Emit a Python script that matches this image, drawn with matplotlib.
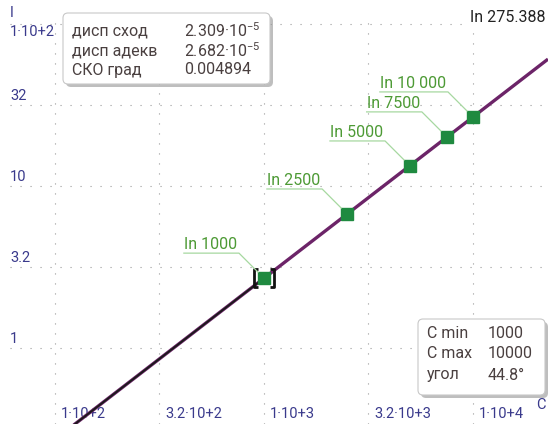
import numpy as np
import matplotlib.pyplot as plt
from matplotlib.patches import FancyBboxPatch
from matplotlib.path import Path
from matplotlib.lines import Line2D
from matplotlib.transforms import IdentityTransform

plt.rcParams["font.family"] = ["Roboto", "DejaVu Sans"]
plt.rcParams["mathtext.fontset"] = "custom"
plt.rcParams["mathtext.rm"] = "Roboto"

# measured points
capacity = [1000, 2500, 5000, 7500, 10000]
current = [2.70, 6.72, 13.3, 20.1, 26.7]
point_labels = ["In 1000", "In 2500", "In 5000", "In 7500", "In 10 000"]
selected = 0

x_grid = [100, 316.2, 1000, 3162, 10000]
x_tick_labels = ["1·10+2", "3.2·10+2", "1·10+3", "3.2·10+3", "1·10+4"]
y_grid = [1, 3.162, 10, 31.62, 100]
y_tick_labels = ["1", "3.2", "10", "32", "1·10+2"]

stats_names = ["дисп сход", "дисп адекв", "СКО град"]
stats_values = [r"2.309·10$^{\mathregular{-5}}$", r"2.682·10$^{\mathregular{-5}}$", "0.004894"]
range_names = ["C min", "C max", "угол"]
range_values = ["1000", "10000", "44.8°"]
curve_name = "In 275.388"

W, H = 548, 424
tick_col = "#3a3a8c"
box_col = "#4a4040"
label_col = "#4d9a35"
leader_col = "#a6d8a0"


def fx(x):
    return x / W


def fy(y):
    return 1 - y / H


fig = plt.figure(figsize=(W / 100, H / 100), dpi=100)
ax = fig.add_axes([fx(10), 0, (W - 10) / W, (H - 14) / H])
ax.set_xscale("log")
ax.set_yscale("log")
ax.set_xlim(60.9, 22855)
ax.set_ylim(0.3396, 115.3)
for s in ax.spines.values():
    s.set_visible(False)
ax.set_xticks([])
ax.set_yticks([])
ax.minorticks_off()

for gx in x_grid:
    ax.axvline(gx, color="#9a9a9a", lw=0.8, ls=(0, (1, 8)), zorder=1)
for gy in y_grid:
    ax.axhline(gy, color="#9a9a9a", lw=0.8, ls=(0, (1, 8)), zorder=1)

# tick labels drawn inside the plot area
for gx, lab in zip(x_grid, x_tick_labels):
    ax.text(gx * 10 ** (6 / 209), 0.393, lab, color=tick_col, fontsize=10.5,
            ha="left", va="center", zorder=2)
for gy, lab in zip(y_grid[:-1], y_tick_labels[:-1]):
    y_px = 348 - 162 * np.log10(gy) - 9
    fig.text(fx(10), fy(y_px), lab, color=tick_col, fontsize=10.5, ha="left", va="center")
fig.text(fx(10), fy(32), y_tick_labels[-1], color=tick_col, fontsize=10.5, ha="left", va="center")
fig.text(fx(10), fy(13), "I", color=tick_col, fontsize=10.5, ha="left", va="center")
fig.text(fx(536), fy(405), "C", color=tick_col, fontsize=10.5, ha="left", va="center")

# power-law fit through the points
k, b = np.polyfit(np.log10(capacity), np.log10(current), 1)
cx = np.logspace(np.log10(60.9), np.log10(22855), 200)
ax.plot(cx, 10 ** (k * np.log10(cx) + b), color="#6c2468", lw=2.4, zorder=3,
        solid_capstyle="butt")
cl = cx[cx <= capacity[0]]
ax.plot(cl, 10 ** (k * np.log10(cl) + b), color="#1a1a1a", lw=1.3, zorder=3.5)

ax.plot(capacity, current, ls="none", marker="s", ms=8.8, mfc="#1f8a40",
        mec="#1f8a40", zorder=4)

bracket = Path(
    [(-0.28, 0.44), (-0.5, 0.44), (-0.5, -0.44), (-0.28, -0.44),
     (0.28, 0.44), (0.5, 0.44), (0.5, -0.44), (0.28, -0.44)],
    [Path.MOVETO, Path.LINETO, Path.LINETO, Path.LINETO,
     Path.MOVETO, Path.LINETO, Path.LINETO, Path.LINETO],
)
ax.plot([capacity[selected]], [current[selected]], ls="none", marker=bracket,
        ms=15, mfc="none", mec="#111111", mew=2.0, zorder=5)

# leader lines and point labels
renderer = fig.canvas.get_renderer()
for c, i, lab in zip(capacity, current, point_labels):
    px, py = ax.transData.transform((c, i))
    t = fig.text((px - 27) / W, (py + 26) / H, lab, color=label_col, fontsize=11.5,
                 ha="right", va="bottom")
    left = t.get_window_extent(renderer).x0
    xs = [px - 6, px - 25, left]
    ys = [py + 6, py + 25, py + 25]
    fig.add_artist(Line2D(xs, ys, transform=IdentityTransform(), color=leader_col, lw=0.9))


def panel(x0, y0, x1, y1):
    sh = FancyBboxPatch((x0 + 3, H - y1 - 3), x1 - x0, y1 - y0,
                        boxstyle="round,pad=0,rounding_size=5",
                        transform=IdentityTransform(), fc="#8a8a8a", ec="none",
                        alpha=0.55, zorder=6)
    bx = FancyBboxPatch((x0, H - y1), x1 - x0, y1 - y0,
                        boxstyle="round,pad=0,rounding_size=5",
                        transform=IdentityTransform(), fc="white", ec="#c8c8c8",
                        lw=0.8, zorder=7)
    fig.add_artist(sh)
    fig.add_artist(bx)


panel(63, 13, 270, 84)
for n, (name, val) in enumerate(zip(stats_names, stats_values)):
    yy = 31 + 19.5 * n
    fig.text(fx(72), fy(yy), name, color=box_col, fontsize=11.5, va="center", zorder=8)
    fig.text(fx(184), fy(yy), val, color=box_col, fontsize=11.5, va="center", zorder=8)

panel(418, 319, 545, 395)
for n, (name, val) in enumerate(zip(range_names, range_values)):
    yy = 333 + 21 * n
    fig.text(fx(427), fy(yy), name, color=box_col, fontsize=11.5, va="center", zorder=8)
    fig.text(fx(488), fy(yy), val, color=box_col, fontsize=11.5, va="center", zorder=8)

fig.text(fx(470), fy(17), curve_name, color="#222222", fontsize=11.5, va="center",
         bbox=dict(fc="white", ec="none", pad=1.5))

fig.savefig("out.png", dpi=100)
